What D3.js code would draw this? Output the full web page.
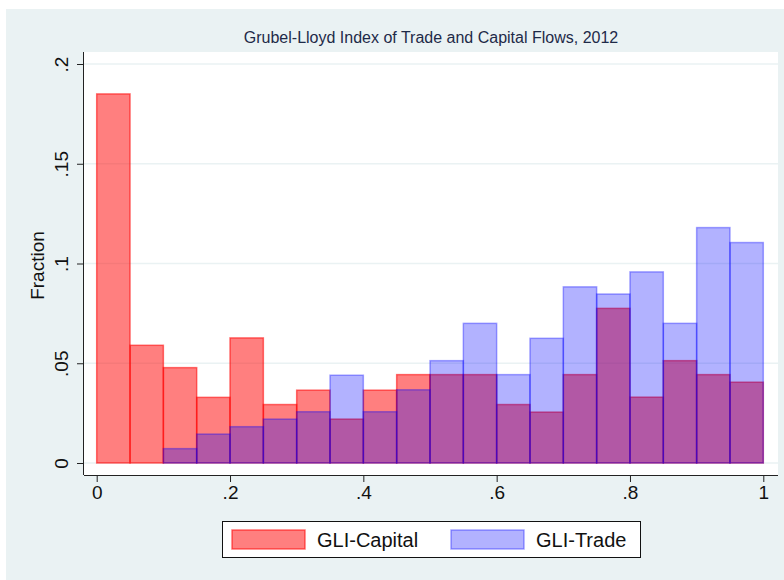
<!DOCTYPE html>
<html>
<head>
<meta charset="utf-8">
<script src="https://cdn.jsdelivr.net/npm/d3@7"></script>
<style>
  body { margin: 0; background: #fff; }
  text { font-family: Arial, "Liberation Sans", sans-serif; }
</style>
</head>
<body>
<div id="chart"></div>
<script>
// bin starts (width .05)
const binStarts = [0, .05, .1, .15, .2, .25, .3, .35, .4, .45, .5, .55, .6, .65, .7, .75, .8, .85, .9, .95];
const capital = [.185, .059, .0478, .0329, .0627, .0293, .0365, .022, .0365, .0443,
                 .0443, .0443, .0293, .0255, .0443, .0775, .033, .0513, .0443, .0405];
const trade = [0, 0, .0072, .0145, .0182, .022, .0257, .044, .0257, .0367,
               .0513, .070, .0443, .0625, .0883, .0847, .0958, .070, .118, .1105];
const xTicks = [0, .2, .4, .6, .8, 1];
const yTicks = [0, .05, .1, .15, .2];
const binW = 0.05;

const width = 784, height = 580;
const plot = {left: 84, right: 778, top: 52, bottom: 475};

const svg = d3.select('#chart')
    .append('svg')
    .attr('width', width)
    .attr('height', height);

// outer graph region
svg.append('rect')
    .attr('x', 6).attr('y', 9)
    .attr('width', width - 6).attr('height', height - 9)
    .attr('fill', '#eaf2f3');

svg.append('rect')
    .attr('x', plot.left).attr('y', plot.top)
    .attr('width', plot.right - plot.left).attr('height', plot.bottom - plot.top)
    .attr('fill', '#fff');

const x = d3.scaleLinear()
    .domain([0, 1])
    .range([96.7, 763.3]);

const y = d3.scaleLinear()
    .domain([0, .2])
    .range([463, 64]);

// gridlines
svg.append('g')
    .selectAll('line')
    .data(yTicks)
    .join('line')
        .attr('x1', plot.left).attr('x2', plot.right)
        .attr('y1', d => y(d)).attr('y2', d => y(d))
        .attr('stroke', '#eaf2f3')
        .attr('stroke-width', 1.5);

function bars(vals, fill, stroke) {
    svg.append('g')
        .selectAll('rect')
        .data(vals.map((v, i) => ({x0: binStarts[i], v})).filter(d => d.v > 0))
        .join('rect')
            .attr('x', d => x(d.x0))
            .attr('y', d => y(d.v))
            .attr('width', d => x(d.x0 + binW) - x(d.x0))
            .attr('height', d => y(0) - y(d.v))
            .attr('fill', fill)
            .attr('stroke', stroke)
            .attr('stroke-width', 1.5);
}
bars(capital, 'rgba(255,0,0,0.5)', 'rgba(255,0,0,0.55)');
bars(trade, 'rgba(0,0,255,0.3)', 'rgba(0,0,255,0.35)');

function xAxis(g) {
    g.attr('transform', `translate(0, ${plot.bottom})`)
        .call(d3.axisBottom(x).tickValues(xTicks).tickSize(7).tickPadding(4)
            .tickFormat(d => d === 0 ? '0' : d === 1 ? '1' : d3.format('.1f')(d).replace(/^0/, '')))
        .attr('font-size', '19px');
    g.select('.domain').attr('d', `M${plot.left},0.5H${plot.right}`).attr('stroke', '#222');
    g.selectAll('.tick line').attr('stroke', '#222');
    g.selectAll('.tick text').attr('fill', '#111');
}

function yAxis(g) {
    g.attr('transform', `translate(${plot.left}, 0)`)
        .call(d3.axisLeft(y).tickValues(yTicks).tickSize(7)
            .tickFormat(d => d === 0 ? '0' : d3.format('.2~f')(d).replace(/^0/, '')))
        .attr('font-size', '19px');
    g.select('.domain').attr('d', `M-0.5,${plot.top}V${plot.bottom}`).attr('stroke', '#222');
    g.selectAll('.tick line').attr('stroke', '#222');
    g.selectAll('.tick text')
        .attr('fill', '#111')
        .attr('x', 0).attr('dy', null)
        .attr('text-anchor', 'middle')
        .attr('transform', 'translate(-16,0) rotate(-90)');
}

svg.append('g').call(xAxis);
svg.append('g').call(yAxis);

svg.append('text')
    .attr('transform', `translate(44, ${(plot.top + plot.bottom) / 2 + 2}) rotate(-90)`)
    .attr('text-anchor', 'middle')
    .attr('font-size', '19px')
    .attr('fill', '#111')
    .text('Fraction');

svg.append('text')
    .attr('x', (plot.left + plot.right) / 2)
    .attr('y', 43)
    .attr('text-anchor', 'middle')
    .attr('font-size', '16px')
    .attr('fill', '#1e2a48')
    .text('Grubel-Lloyd Index of Trade and Capital Flows, 2012');

// legend
const legendItems = [
    {label: 'GLI-Capital', fill: 'rgba(255,0,0,0.5)', stroke: 'rgba(255,0,0,0.55)'},
    {label: 'GLI-Trade', fill: 'rgba(0,0,255,0.3)', stroke: 'rgba(0,0,255,0.35)'}
];
const legend = svg.append('g');
legend.append('rect')
    .attr('x', 222.5).attr('y', 521.5)
    .attr('width', 418).attr('height', 36)
    .attr('fill', '#fff').attr('stroke', '#111');
const li = legend.selectAll('g.item')
    .data(legendItems)
    .join('g')
        .attr('transform', (d, i) => `translate(${232 + i * 219}, 530)`);
li.append('rect')
    .attr('width', 73).attr('height', 19)
    .attr('fill', d => d.fill)
    .attr('stroke', d => d.stroke)
    .attr('stroke-width', 1.5);
li.append('text')
    .attr('x', 85).attr('y', 17)
    .attr('font-size', '20px')
    .attr('fill', '#111')
    .text(d => d.label);
</script>
</body>
</html>
